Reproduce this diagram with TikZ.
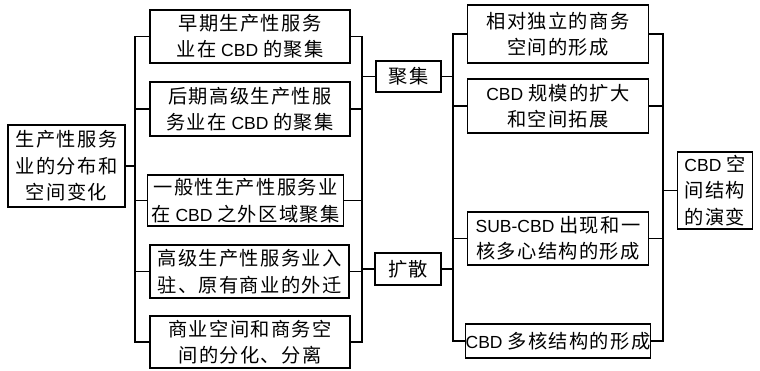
\documentclass[tikz,border=0pt]{standalone}
\usepackage{fontspec}
\setmainfont{Liberation Sans}
\newfontfamily\cjk[LetterSpace=7, Scale=1.1]{Noto Sans CJK SC}
\newcommand{\C}[1]{{\cjk #1}}
\begin{document}
\begin{tikzpicture}[x=1pt,y=-1pt,
  box/.style={draw, line width=1.4pt, inner sep=0pt, align=center,
    font=\fontsize{17.5}{26.5}\selectfont},
  ln/.style={line width=1.4pt, line cap=rect}]
\useasboundingbox (0,0) rectangle (760,370);
% left box
\node[box, minimum width=117pt, minimum height=82pt] (L) at (66.5,166)
  {\C{生产性服务}\\\C{业的分布和}\\\C{空间变化}};
% column 2
\node[box, minimum width=200pt, minimum height=53pt] (c1) at (250,36.5)
  {\C{早期生产性服务}\\\C{业在} CBD \C{的聚集}};
\node[box, minimum width=200pt, minimum height=54pt] (c2) at (250,109)
  {\C{后期高级生产性服}\\\C{务业在} CBD \C{的聚集}};
\node[box, minimum width=196pt, minimum height=51pt] (c3) at (245.5,200.5)
  {\C{一般性生产性服务业}\\\C{在} CBD \C{之外区域聚集}};
\node[box, minimum width=199pt, minimum height=53pt] (c4) at (249.5,271.5)
  {\C{高级生产性服务业入}\\\C{驻、原有商业的外迁}};
\node[box, minimum width=200pt, minimum height=52pt] (c5) at (250,342)
  {\C{商业空间和商务空}\\\C{间的分化、分离}};
% column 3
\node[box, minimum width=65pt, minimum height=31pt] (J) at (408.5,76.5) {\C{聚集}};
\node[box, minimum width=66pt, minimum height=32pt] (K) at (408,269) {\C{扩散}};
% column 4
\node[box, minimum width=181pt, minimum height=58pt] (A) at (558,34)
  {\C{相对独立的商务}\\\C{空间的形成}};
\node[box, minimum width=181pt, minimum height=54pt] (B) at (558,106)
  {CBD \C{规模的扩大}\\\C{和空间拓展}};
\node[box, minimum width=181pt, minimum height=53pt] (C) at (558,238.5)
  {SUB-CBD \C{出现和一}\\\C{核多心结构的形成}};
\node[box, minimum width=181pt, minimum height=34pt] (D) at (558,341)
  {CBD \C{多核结构的形成}};
% right box
\node[box, minimum width=75pt, minimum height=77pt] (R) at (715,190.5)
  {CBD \C{空}\\\C{间结构}\\\C{的演变}};
% trunks
\coordinate (t1) at (135,0);
\coordinate (t2) at (362,0);
\coordinate (t3) at (453,0);
\coordinate (t4) at (663,0);
\draw[ln] (L.east) -- (L.east -| t1);
\draw[ln] (c1.west -| t1) -- (c5.west -| t1);
\draw[ln] (c1.east -| t2) -- (c5.east -| t2);
\foreach \n in {c1,c2,c3,c4,c5}{
  \draw[ln] (\n.west) -- (\n.west -| t1);
  \draw[ln] (\n.east) -- (\n.east -| t2);
}
\draw[ln] (J.west) -- (J.west -| t2);
\draw[ln] (K.west) -- (K.west -| t2);
\draw[ln] (J.east) -- (J.east -| t3);
\draw[ln] (K.east) -- (K.east -| t3);
\draw[ln] (A.west -| t3) -- (D.west -| t3);
\draw[ln] (A.east -| t4) -- (D.east -| t4);
\foreach \n in {A,B,C,D}{
  \draw[ln] (\n.west) -- (\n.west -| t3);
  \draw[ln] (\n.east) -- (\n.east -| t4);
}
\draw[ln] (R.west) -- (R.west -| t4);
\end{tikzpicture}
\end{document}
